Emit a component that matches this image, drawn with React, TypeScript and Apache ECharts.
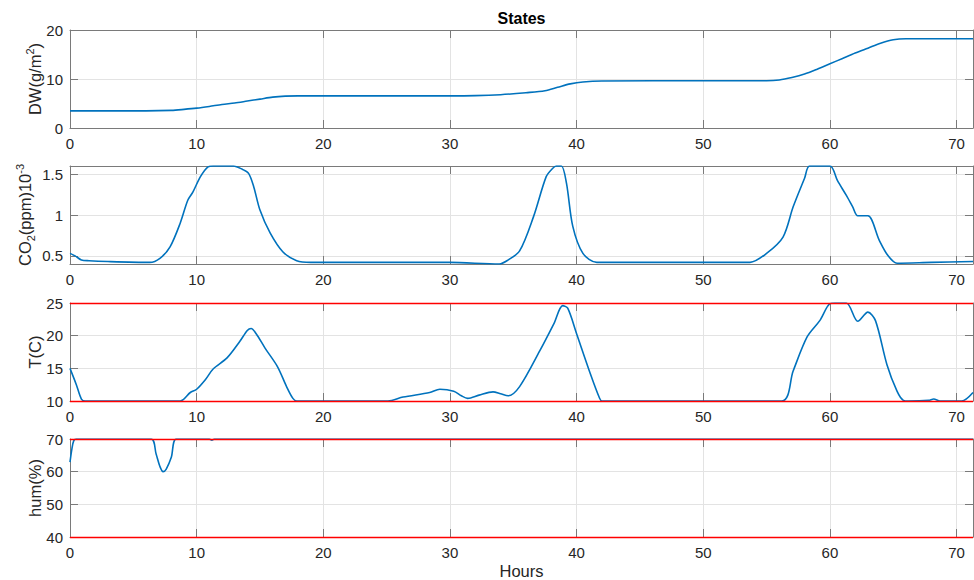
import { useEffect, useRef } from "react";
import * as echarts from "echarts";

const X_MAX = 71.3;
const FONT = "'Liberation Sans', Arial, Helvetica, sans-serif";
const TEXT_COLOR = "#262626";
const LINE_BLUE = "#0072BD";
const LIMIT_RED = "#ff0000";

const titleText = "States";
const xAxisName = "Hours";

// Dry weight (g/m^2)
const dwPoints: [number, number][] = [
  [0, 3.5], [6, 3.5], [8, 3.6], [9, 3.8], [10, 4.05], [11, 4.4], [12, 4.8], [13, 5.1],
  [14, 5.5], [15, 5.9], [16, 6.3], [17, 6.5], [18, 6.55], [25, 6.55], [30, 6.55],
  [32, 6.6], [34, 6.8], [36, 7.2], [37.5, 7.6], [38.5, 8.3], [39.5, 9.0], [40.5, 9.4],
  [42, 9.6], [50, 9.65], [55, 9.65], [56, 9.8], [57, 10.3], [58, 11.0], [59, 12.0],
  [60, 13.1], [61, 14.2], [62, 15.3], [63, 16.3], [64, 17.3], [65, 18.0], [66, 18.2],
  [71.3, 18.2],
];

// CO2 (ppm x 10^-3)
const co2Points: [number, number][] = [
  [0, 0.53], [0.4, 0.5], [0.9, 0.45], [1.5, 0.44], [3, 0.43], [6.3, 0.42], [7.1, 0.47],
  [7.9, 0.61], [8.7, 0.9], [9.3, 1.18], [9.7, 1.28], [10.3, 1.47], [10.9, 1.59],
  [11.3, 1.6], [12.9, 1.6], [13.6, 1.56], [14.1, 1.51], [14.5, 1.35], [15.0, 1.06],
  [15.8, 0.78], [16.8, 0.55], [17.9, 0.44], [19, 0.42], [30, 0.42], [33.9, 0.4],
  [34.5, 0.44], [35.5, 0.56], [36.6, 0.98], [37.6, 1.47], [38.1, 1.57], [38.4, 1.6],
  [38.8, 1.6], [39.2, 1.39], [39.7, 0.86], [40.5, 0.53], [41.6, 0.42], [53.7, 0.42],
  [55.0, 0.53], [56.3, 0.73], [57.1, 1.1], [58.0, 1.45], [58.4, 1.6], [60.0, 1.6],
  [60.6, 1.42], [61.3, 1.24], [61.8, 1.1], [62.2, 0.99], [63.0, 0.99], [63.9, 0.69],
  [64.6, 0.5], [65.3, 0.41], [68, 0.42], [71.3, 0.43],
];

// Temperature (C)
const tempPoints: [number, number][] = [
  [0, 15], [0.5, 12.5], [0.9, 10.3], [1.2, 10], [8.7, 10], [9.5, 11.3], [10, 11.8],
  [10.7, 13.3], [11.3, 14.9], [12.4, 16.6], [13.4, 19.1], [14.0, 20.8], [14.3, 21.1],
  [14.7, 20.3], [15.4, 18.1], [16.4, 15.2], [17.1, 12.2], [17.6, 10.4], [17.9, 10],
  [25.1, 10], [26.3, 10.6], [28.4, 11.3], [29.2, 11.8], [30.3, 11.5], [30.9, 10.8],
  [31.4, 10.4], [32.3, 10.9], [33.4, 11.4], [34.0, 11.1], [34.6, 10.8], [35.5, 12.2],
  [37.1, 17.7], [38.2, 21.8], [38.9, 24.6], [39.3, 24.2], [40.0, 20.3], [41.1, 14.1],
  [41.8, 10.5], [42.0, 10], [56.2, 10], [57.1, 14.6], [58.2, 19.8], [59.2, 22.3],
  [60.0, 24.9], [60.4, 25], [61.3, 25], [62.2, 22.2], [63.0, 23.6], [63.6, 22.3],
  [64.5, 15.6], [65.3, 11.5], [65.8, 10.1], [66.2, 10], [67.8, 10.1], [68.2, 10.3],
  [68.7, 10], [70.4, 10], [71.3, 11.3],
];

// Relative humidity (%)
const humPoints: [number, number][] = [
  [0, 62.9], [0.15, 67], [0.3, 69.5], [0.5, 70], [6.4, 70], [6.8, 65.4], [7.1, 61.6],
  [7.35, 60], [7.6, 60.8], [8.0, 64.4], [8.4, 70], [11.0, 70], [11.2, 69.6], [11.4, 70],
  [71.3, 70],
];

const tempLimits = [10, 25];
const humLimits = [40, 70];

const co2Ticks = [0.5, 1, 1.5];

const panels = [
  { data: dwPoints, min: 0, max: 20, interval: 10, limits: [] as number[], custom: null as number[] | null },
  { data: co2Points, min: 0.4, max: 1.6, interval: null as number | null, limits: [] as number[], custom: co2Ticks },
  { data: tempPoints, min: 10, max: 25, interval: 5, limits: tempLimits, custom: null },
  { data: humPoints, min: 40, max: 70, interval: 10, limits: humLimits, custom: null },
];

const gridTops = [30, 166, 303, 439];
const GRID_H = 98;
const GRID_LEFT = 70;
const GRID_W = 903;

const AXIS_GRAY = "#7a7a7a";
const GRID_GRAY = "#e3e3e3";

function buildOption() {
  const grid: any[] = [];
  const xAxis: any[] = [];
  const yAxis: any[] = [];
  const series: any[] = [];

  panels.forEach((p, i) => {
    grid.push({ left: GRID_LEFT, top: gridTops[i], width: GRID_W, height: GRID_H, containLabel: false });
    const xBase = {
      type: "value",
      gridIndex: i,
      min: 0,
      max: X_MAX,
      interval: 10,
      axisLine: { show: true, onZero: false, lineStyle: { color: AXIS_GRAY, width: 1 } },
      axisTick: { show: true, inside: true, length: 8, lineStyle: { color: AXIS_GRAY } },
    };
    xAxis.push({
      ...xBase,
      position: "bottom",
      splitLine: { show: true, lineStyle: { color: GRID_GRAY, width: 1 } },
      axisLabel: {
        show: true,
        showMaxLabel: false,
        fontSize: 15,
        fontFamily: FONT,
        color: TEXT_COLOR,
        margin: 8,
      },
    });
    xAxis.push({
      ...xBase,
      position: "top",
      splitLine: { show: false },
      axisLabel: { show: false },
    });

    const yBase: any = {
      type: "value",
      gridIndex: i,
      min: p.min,
      max: p.max,
      axisLine: { show: true, onZero: false, lineStyle: { color: AXIS_GRAY, width: 1 } },
      axisTick: { show: true, inside: true, length: 8, lineStyle: { color: AXIS_GRAY } },
    };
    if (p.interval != null) yBase.interval = p.interval;
    if (p.custom) yBase.axisTick.customValues = p.custom;
    const yLeft: any = {
      ...yBase,
      position: "left",
      splitLine: { show: true, lineStyle: { color: GRID_GRAY, width: 1 } },
      axisLabel: {
        show: true,
        fontSize: 15,
        fontFamily: FONT,
        color: TEXT_COLOR,
        margin: 7,
      },
    };
    if (p.custom) yLeft.axisLabel.customValues = p.custom;
    yAxis.push(yLeft);
    yAxis.push({
      ...yBase,
      position: "right",
      splitLine: { show: false },
      axisLabel: { show: false },
    });

    series.push({
      type: "line",
      xAxisIndex: 2 * i,
      yAxisIndex: 2 * i,
      data: p.data,
      showSymbol: false,
      symbol: "none",
      smooth: 0.3,
      clip: true,
      lineStyle: { color: LINE_BLUE, width: 1.6 },
      emphasis: { disabled: true },
      markLine: p.limits.length
        ? {
            silent: true,
            symbol: "none",
            label: { show: false },
            lineStyle: { color: LIMIT_RED, width: 1.3, type: "solid" },
            emphasis: { disabled: true },
            data: p.limits.map((v) => ({ yAxis: v })),
          }
        : undefined,
    });
  });

  const nameStyle = (cx: number, cy: number, text: string) => ({
    type: "text",
    x: cx,
    y: cy,
    rotation: Math.PI / 2,
    style: {
      text,
      fill: TEXT_COLOR,
      fontFamily: FONT,
      fontSize: 16.5,
      align: "center",
      verticalAlign: "middle",
      textAlign: "center",
      textVerticalAlign: "middle",
      rich: {
        a: { fontSize: 16.5, fontFamily: FONT, lineHeight: 22, verticalAlign: "middle" },
        sup: { fontSize: 11, fontFamily: FONT, lineHeight: 22, verticalAlign: "top" },
        sub: { fontSize: 11, fontFamily: FONT, lineHeight: 22, verticalAlign: "bottom" },
      },
    },
  });

  const centerX = GRID_LEFT + GRID_W / 2;

  const graphic = [
    {
      type: "text",
      x: centerX,
      y: 18,
      style: {
        text: titleText,
        fill: "#000",
        fontFamily: FONT,
        fontSize: 16,
        fontWeight: "bold",
        align: "center",
        verticalAlign: "middle",
        textAlign: "center",
        textVerticalAlign: "middle",
      },
    },
    {
      type: "text",
      x: centerX,
      y: 571,
      style: {
        text: xAxisName,
        fill: TEXT_COLOR,
        fontFamily: FONT,
        fontSize: 16.5,
        align: "center",
        verticalAlign: "middle",
        textAlign: "center",
        textVerticalAlign: "middle",
      },
    },
    nameStyle(35, gridTops[0] + GRID_H / 2, "{a|DW(g/m}{sup|2}{a|)}"),
    nameStyle(25, gridTops[1] + GRID_H / 2, "{a|CO}{sub|2}{a|(ppm)10}{sup|-3}"),
    nameStyle(35, gridTops[2] + GRID_H / 2, "{a|T(C)}"),
    nameStyle(35, gridTops[3] + GRID_H / 2, "{a|hum(%)}"),
  ];

  return {
    animation: false,
    backgroundColor: "#ffffff",
    textStyle: { fontFamily: FONT },
    grid,
    xAxis,
    yAxis,
    series,
    graphic,
  };
}

export default function App() {
  const ref = useRef<HTMLDivElement>(null);
  useEffect(() => {
    if (!ref.current) return;
    const chart = echarts.init(ref.current, null, { renderer: "svg" });
    chart.setOption(buildOption() as any);
    return () => chart.dispose();
  }, []);
  return (
    <div
      ref={ref}
      style={{ position: "absolute", left: 0, top: 0, width: 974, height: 580, background: "#fff" }}
    />
  );
}
